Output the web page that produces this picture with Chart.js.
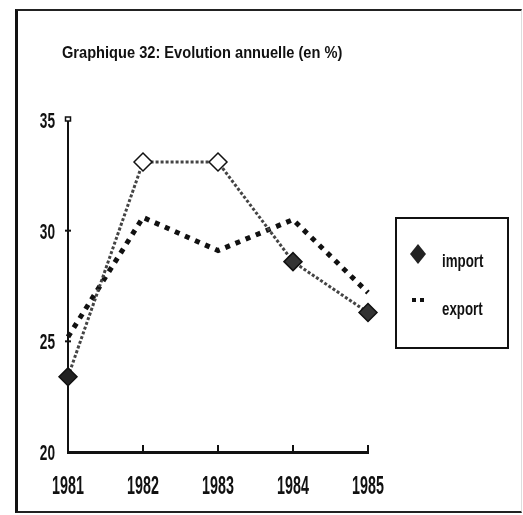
<!DOCTYPE html>
<html><head><meta charset="utf-8">
<script src="https://cdn.jsdelivr.net/npm/chart.js@4"></script>
<style>
html,body{margin:0;padding:0;background:#fff;}
#wrap{position:relative;width:523px;height:515px;overflow:hidden;}
#frame{position:absolute;left:15px;top:9px;width:507px;height:504px;border-left:3px solid #111;border-top:2px solid #222;border-right:1px solid #ddd;border-bottom:2px solid #222;box-sizing:border-box;}
canvas{position:absolute;left:0;top:0;}
</style></head><body>
<div id="wrap"><div id="frame"></div><canvas id="c" width="523" height="515"></canvas></div>
<script>
const years = ['1981', '1982', '1983', '1984', '1985'];
const importValues = [23.4, 33.1, 33.1, 28.6, 26.3];
const exportValues = [25.2, 30.6, 29.1, 30.5, 27.2];
const yTicks = [20, 25, 30, 35];
const seriesNames = ['import', 'export'];
const titleText = 'Graphique 32: Evolution annuelle (en %)';

const FONT = "'Liberation Sans', Arial, sans-serif";

function condensedText(ctx, text, x, y, size, sx, align) {
  ctx.save();
  ctx.font = 'bold ' + size + 'px ' + FONT;
  ctx.textBaseline = 'alphabetic';
  ctx.textAlign = align || 'left';
  ctx.translate(x, y);
  ctx.scale(sx, 1);
  ctx.fillText(text, 0, 0);
  ctx.restore();
}

const decorPlugin = {
  id: 'decor',
  afterDraw(chart) {
    const ctx = chart.ctx;
    const a = chart.chartArea;
    const xs = chart.scales.x, ys = chart.scales.y;
    ctx.save();
    ctx.fillStyle = '#111';
    ctx.strokeStyle = '#111';
    // title
    condensedText(ctx, titleText, a.left - 6, 58, 17, 0.86, 'left');
    // y tick labels and marks
    ys.ticks.forEach(t => {
      const py = ys.getPixelForValue(t.value);
      condensedText(ctx, String(t.value), a.left - 13, py + 8, 22, 0.62, 'right');
      if (t.value !== 20 && t.value !== 35) {
        ctx.lineWidth = 2;
        ctx.beginPath(); ctx.moveTo(a.left - 3, py); ctx.lineTo(a.left + 3, py); ctx.stroke();
      }
    });
    // small cap at the top of y axis
    ctx.lineWidth = 1.5;
    ctx.fillStyle = '#fff';
    ctx.fillRect(a.left - 2.5, a.top - 3, 5, 4);
    ctx.strokeRect(a.left - 2.5, a.top - 3, 5, 4);
    ctx.fillStyle = '#111';
    // x tick labels and marks
    xs.ticks.forEach((t, i) => {
      const px = xs.getPixelForTick(i);
      condensedText(ctx, xs.getLabelForValue(t.value), px, a.bottom + 42, 26, 0.55, 'center');
      if (i > 0) {
        ctx.lineWidth = 2;
        ctx.beginPath(); ctx.moveTo(px, a.bottom - 7); ctx.lineTo(px, a.bottom + 2); ctx.stroke();
      }
    });
    // legend box
    const bx = a.right + 28, by = 218, bw = 112, bh = 130;
    ctx.lineWidth = 2;
    ctx.strokeRect(bx, by, bw, bh);
    // import entry
    const mx = bx + 22, my = by + 36;
    ctx.fillStyle = '#222';
    ctx.beginPath();
    ctx.moveTo(mx, my - 10); ctx.lineTo(mx + 8, my); ctx.lineTo(mx, my + 10); ctx.lineTo(mx - 8, my); ctx.closePath();
    ctx.fill();
    ctx.fillStyle = '#111';
    condensedText(ctx, seriesNames[0], bx + 46, by + 49, 19, 0.7, 'left');
    // export entry
    ctx.fillRect(bx + 16, by + 80, 4, 4);
    ctx.fillRect(bx + 24, by + 80, 4, 4);
    condensedText(ctx, seriesNames[1], bx + 46, by + 97, 19, 0.7, 'left');
    ctx.restore();
  }
};

new Chart(document.getElementById('c'), {
  type: 'line',
  data: {
    labels: years,
    datasets: [
      {
        label: seriesNames[0],
        data: importValues,
        borderColor: '#444',
        borderWidth: 3,
        borderDash: [3, 2],
        pointStyle: 'rectRot',
        pointRadius: 9,
        pointBorderWidth: 1.5,
        pointBorderColor: '#111',
        pointBackgroundColor: ['#222', '#fff', '#fff', '#333', '#333'],
        tension: 0,
        clip: false
      },
      {
        label: seriesNames[1],
        data: exportValues,
        borderColor: '#111',
        borderWidth: 5,
        borderDash: [5, 6],
        borderCapStyle: 'butt',
        pointRadius: 0,
        tension: 0,
        clip: false
      }
    ]
  },
  options: {
    responsive: false,
    animation: false,
    layout: { padding: { left: 30, right: 155, top: 120, bottom: 0 } },
    plugins: { legend: { display: false }, title: { display: false }, tooltip: { enabled: false } },
    scales: {
      x: {
        type: 'category',
        offset: false,
        afterFit(s) { s.height = 63; },
        grid: { drawOnChartArea: false, drawTicks: false },
        border: { display: true, color: '#111', width: 3 },
        ticks: { display: false, autoSkip: false }
      },
      y: {
        min: 20, max: 35,
        afterFit(s) { s.width = 38; },
        afterBuildTicks(s) { s.ticks = yTicks.map(v => ({ value: v })); },
        grid: { drawOnChartArea: false, drawTicks: false },
        border: { display: true, color: '#111', width: 2 },
        ticks: { display: false }
      }
    }
  },
  plugins: [decorPlugin]
});
</script>
</body></html>
